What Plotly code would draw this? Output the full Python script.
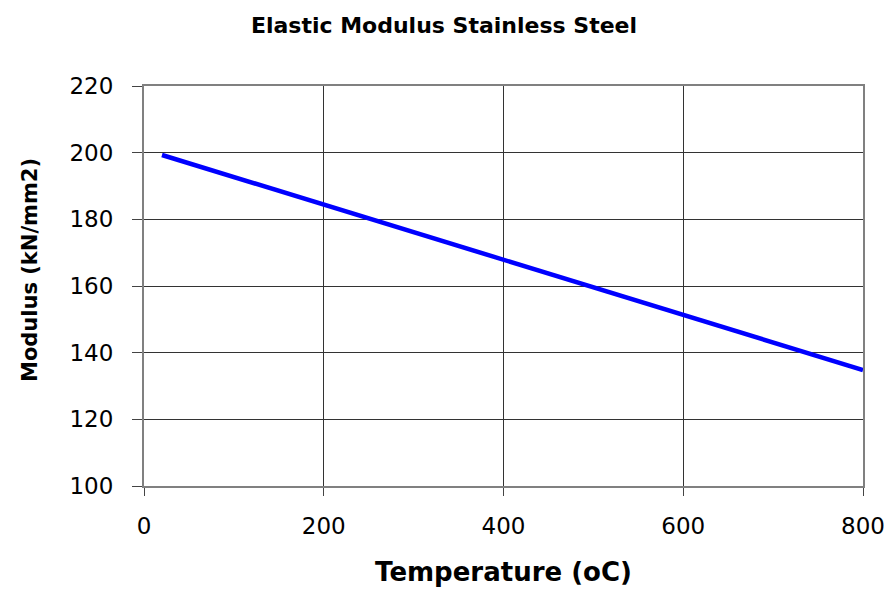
import plotly.graph_objects as go

# temperature (oC) and elastic modulus (kN/mm2)
temperature = [20, 100, 200, 300, 400, 500, 600, 700, 800]
modulus = [199.3, 192.7, 184.4, 176.1, 167.8, 159.6, 151.3, 143.0, 134.8]

x_ticks = [0, 200, 400, 600, 800]
y_ticks = [100, 120, 140, 160, 180, 200, 220]

font = "DejaVu Sans, Liberation Sans, Arial, sans-serif"

fig = go.Figure()
fig.add_trace(go.Scatter(
    x=temperature, y=modulus, mode="lines",
    line=dict(color="#0000ff", width=4.5),
    showlegend=False,
))

W, H = 888, 589
fig.update_layout(
    width=W, height=H,
    margin=dict(l=144, r=25, t=86, b=103),
    paper_bgcolor="white", plot_bgcolor="white",
    font=dict(family=font, color="black", size=23),
    title=dict(text="<b>Elastic Modulus Stainless Steel</b>", x=0.5, xanchor="center",
               y=1 - 25 / H, yanchor="middle", font=dict(size=22)),
)
fig.update_xaxes(
    range=[0, 800], tickvals=x_ticks, ticktext=[str(v) for v in x_ticks],
    showgrid=True, gridcolor="#333333", gridwidth=1,
    showline=True, linecolor="#808080", linewidth=2, mirror=True,
    ticks="outside", ticklen=8, tickcolor="#444444", ticklabelstandoff=10,
    zeroline=False, automargin=False,
    title=dict(text="<b>Temperature (oC)</b>", font=dict(size=26), standoff=25),
)
fig.update_yaxes(
    range=[100, 220], tickvals=y_ticks, ticktext=[str(v) for v in y_ticks],
    showgrid=True, gridcolor="#333333", gridwidth=1,
    showline=True, linecolor="#808080", linewidth=2, mirror=True,
    ticks="outside", ticklen=10, tickcolor="#444444", ticklabelstandoff=14,
    zeroline=False, automargin=False,
)

# y title sits a little above the plot centre in the reference, so place it by hand
fig.add_annotation(
    text="<b>Modulus (kN/mm2)</b>", textangle=-90,
    xref="paper", yref="paper", x=(30 - 144) / 719, y=(486 - 270) / 400,
    xanchor="center", yanchor="middle", showarrow=False,
    font=dict(size=21),
)

# drop the default 8px body margin so the figure fills the window exactly
fig.write_html("out.html", config={"displayModeBar": False},
               post_script="document.body.style.margin = '0';")
